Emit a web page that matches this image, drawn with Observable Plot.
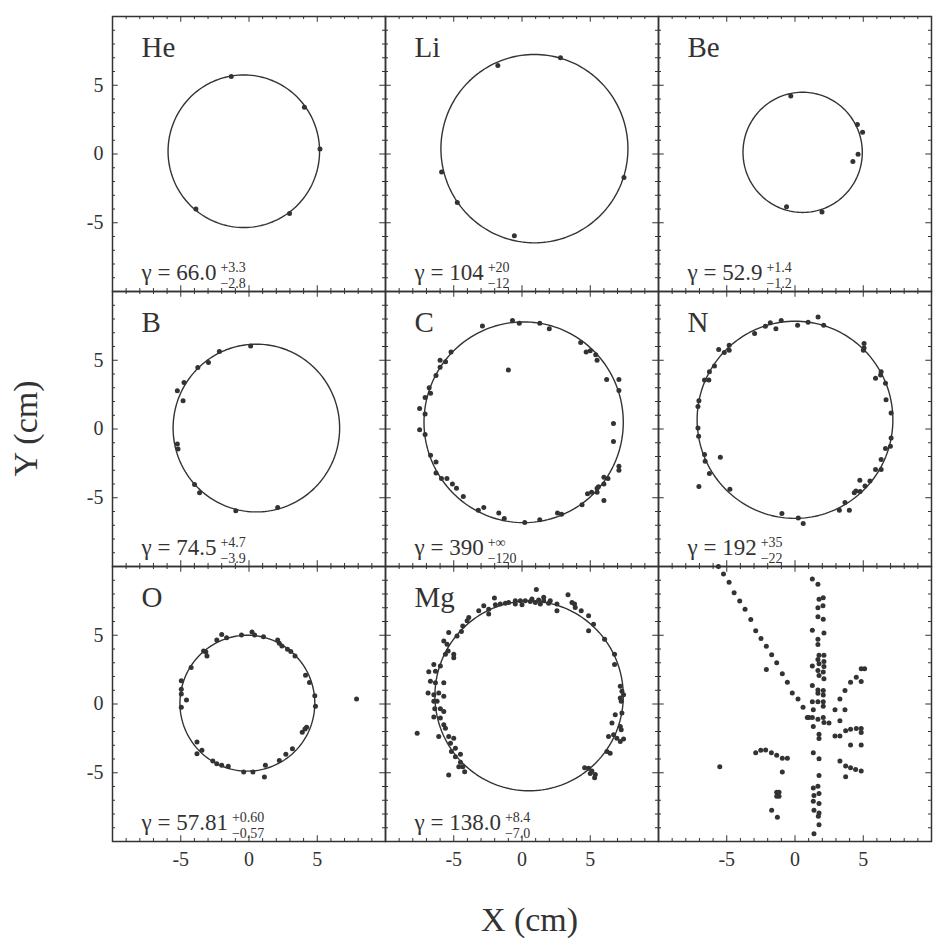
<!DOCTYPE html>
<html><head><meta charset="utf-8">
<script src="https://cdn.jsdelivr.net/npm/d3@7"></script>
<script src="https://cdn.jsdelivr.net/npm/@observablehq/plot@0.6"></script>
<style>body{margin:0;background:#fff;}</style>
</head><body><div id="chart"></div>
<script>
// ---- data ----
const panelNames = ["He", "Li", "Be", "B", "C", "N", "O", "Mg", ""];
const gammaValues = ["66.0", "104", "52.9", "74.5", "390", "192", "57.81", "138.0", null];
const gammaPlus = ["+3.3", "+20", "+1.4", "+4.7", "+∞", "+35", "+0.60", "+8.4", null];
const gammaMinus = ["−2.8", "−12", "−1.2", "−3.9", "−120", "−22", "−0.57", "−7.0", null];
// fitted circle: centre x, centre y, radius (cm)
const fitCx = [-0.38, 0.91, 0.56, 0.54, 0.12, 0.0, -0.12, 0.52, null];
const fitCy = [0.2, 0.39, 0.12, 0.07, 0.49, 0.67, 0.06, 0.59, null];
const fitR = [5.55, 6.85, 4.37, 6.1, 7.3, 7.17, 4.94, 6.9, null];

const hePoints = [[-1.3,5.64],[4.06,3.4],[5.2,0.36],[2.97,-4.33],[-3.89,-4.0]];
const liPoints = [[2.82,7.0],[-1.77,6.43],[-5.89,-1.31],[-4.74,-3.52],[-0.56,-5.95],[7.47,-1.71]];
const bePoints = [[-0.31,4.21],[4.57,2.14],[4.95,1.59],[4.62,-0.02],[4.24,-0.55],[-0.62,-3.84],[1.98,-4.21]];
const bPoints = [[0.12,6.04],[-2.17,5.63],[-2.97,4.83],[-3.75,4.47],[-4.76,3.38],[-5.25,2.78],[-4.83,2.06],
  [-5.25,-1.09],[-5.2,-1.45],[-3.99,-4.03],[-3.62,-4.64],[-0.97,-5.94],[2.1,-5.7]];
const cPoints = [[-2.9,7.5],[-0.7,7.9],[-0.2,7.7],[1.3,7.7],[2.0,7.3],[4.3,6.3],[4.7,5.6],[5.0,5.7],[5.4,5.4],
  [5.5,5.0],[6.2,3.6],[7.1,3.6],[7.1,2.8],[6.7,0.4],[6.7,-0.9],[7.1,-2.7],[7.1,-3.0],[6.0,-3.5],[6.3,-3.6],
  [6.0,-4.0],[5.6,-4.2],[5.5,-4.3],[5.5,-4.6],[5.1,-4.6],[4.8,-4.7],[6.0,-5.2],[4.4,-5.5],[2.9,-6.2],[2.6,-6.1],
  [1.3,-6.6],[0.2,-6.8],[-1.3,-6.5],[-1.7,-6.1],[-2.8,-5.7],[-3.2,-5.9],[-4.3,-4.9],[-4.8,-4.3],[-5.1,-4.0],
  [-5.5,-3.6],[-5.9,-3.6],[-6.3,-3.2],[-6.3,-2.4],[-6.7,-1.9],[-7.1,-0.4],[-7.5,-0.05],[-7.5,1.5],[-7.1,1.1],
  [-7.1,2.3],[-6.7,2.6],[-6.8,3.0],[-6.3,3.9],[-6.0,4.5],[-6.0,5.0],[-5.6,4.9],[-5.2,5.6],[-1.0,4.3]];
const nPoints = [[-2.96,6.94],[-2.17,7.47],[-1.81,7.73],[-1.4,7.3],[-1.01,7.9],[0.19,7.54],[0.96,7.76],[1.69,8.14],
  [2.1,7.54],[-5.59,5.78],[-5.18,5.57],[-4.82,5.73],[-4.82,6.1],[-5.9,4.58],[-6.27,4.17],[-6.63,3.57],[-6.31,3.57],
  [-7.04,2.05],[-7.11,1.64],[-7.11,0.07],[-7.06,-0.53],[-6.63,-1.86],[-6.58,-2.34],[-6.27,-3.23],[-7.04,-4.19],
  [-5.47,-2.05],[-4.77,-4.39],[-0.96,-6.14],[0.24,-6.48],[0.6,-6.87],[3.25,-5.9],[3.98,-5.9],[3.66,-5.35],
  [4.34,-4.63],[4.46,-4.51],[4.77,-4.55],[4.75,-3.73],[5.13,-4.14],[5.49,-3.78],[5.9,-2.94],[6.31,-2.94],
  [6.31,-2.22],[6.63,-1.42],[6.99,-1.25],[7.04,-0.65],[7.04,1.16],[6.67,2.12],[6.63,3.33],[6.27,3.93],
  [6.31,4.17],[5.9,3.69],[5.06,6.22],[5.06,5.9],[5.01,5.73]];
const oPoints = [[-2.0,5.06],[-1.64,4.82],[-2.36,4.65],[-0.55,5.01],[0.22,5.23],[0.41,5.01],[1.06,4.89],[2.1,4.65],
  [2.22,4.41],[2.41,4.22],[2.82,3.98],[3.06,3.81],[3.37,3.49],[-3.33,3.86],[-3.08,3.49],[-3.16,3.78],[-4.24,2.65],
  [-4.96,1.69],[-4.96,1.08],[-4.96,0.72],[-4.58,0.29],[-4.96,-0.24],[-3.81,-2.77],[-3.45,-3.37],[-3.81,-3.61],
  [-2.65,-4.14],[-2.36,-4.34],[-2.0,-4.46],[-1.52,-4.53],[-0.39,-4.94],[0.29,-4.94],[1.13,-5.3],[1.2,-4.46],
  [2.22,-4.1],[2.7,-3.66],[3.18,-3.25],[4.1,-1.81],[4.22,-1.69],[3.9,-2.05],[4.82,0.6],[4.87,-0.17],[4.43,1.57],
  [4.14,2.1],[7.88,0.36]];
const mgPoints = [[1.05,8.32],[3.37,7.95],[-2.02,7.71],[-2.8,7.15],[-2.44,6.9],[-3.17,6.78],[-2.44,6.54],[-1.95,7.22],
  [-1.59,7.27],[-1.22,7.32],[-0.98,7.39],[-0.49,7.51],[-0.49,7.27],[-0.12,7.51],[0.0,7.22],[0.24,7.51],[0.61,7.46],
  [0.73,7.63],[0.98,7.39],[1.22,7.56],[1.34,7.27],[1.59,7.76],[1.59,7.51],[1.95,7.32],[2.07,7.51],[2.56,7.27],
  [2.56,6.78],[3.66,7.39],[3.9,7.02],[3.85,7.27],[4.34,6.78],[4.88,6.41],[4.88,5.32],[5.24,5.8],[6.05,4.71],
  [-3.9,6.29],[-4.02,6.05],[-4.34,5.68],[-4.44,5.27],[-4.76,4.95],[-5.37,5.2],[-5.73,4.59],[-5.49,4.34],
  [-5.41,3.85],[-5.0,3.61],[-5.0,3.37],[-5.61,3.61],[-5.98,2.76],[-6.34,2.39],[-6.83,2.34],[-6.46,2.88],
  [-6.71,1.66],[-6.34,1.54],[-5.73,1.54],[-6.88,0.8],[-6.46,0.68],[-6.1,0.8],[-5.73,0.56],[-6.46,0.2],[-6.22,0.2],
  [-6.39,-0.34],[-5.98,-0.34],[-6.46,-0.95],[-5.98,-1.02],[-5.73,-0.54],[-5.73,-1.51],[-5.61,-1.76],[-6.1,-2.37],
  [-5.37,-2.37],[-5.0,-2.49],[-5.24,-2.85],[-4.88,-3.22],[-5.17,-3.46],[-4.88,-3.83],[-4.51,-3.66],[-4.51,-4.24],
  [-4.34,-4.56],[-4.2,-4.93],[-4.63,-4.56],[-7.68,-2.12],[-5.37,-5.17],[6.78,3.61],[6.78,2.88],[7.2,1.29],
  [7.32,0.93],[7.44,0.68],[7.2,0.44],[7.27,0.2],[7.32,-0.66],[6.83,-0.78],[6.59,-1.39],[7.2,-1.63],[7.27,-1.88],
  [6.34,-2.37],[6.71,-2.24],[6.95,-2.49],[7.44,-2.54],[7.2,-2.73],[6.22,-3.46],[6.46,-3.59],[4.59,-4.63],
  [4.88,-4.68],[5.12,-4.88],[5.37,-5.12],[5.32,-5.37],[5.0,-5.05]];
const lastPoints = [[-5.61,10.0],[-5.24,9.46],[-4.83,8.85],[-4.46,8.1],[-4.05,7.49],[-3.66,6.9],[-3.24,6.15],
  [-2.88,5.32],[-2.49,4.76],[-2.1,4.2],[-1.71,3.59],[-1.34,3.0],[-0.93,2.2],[-0.56,1.59],[-0.2,0.8],[0.22,0.37],
  [0.59,-0.24],[1.02,-0.98],[-2.1,2.51],
  [1.27,9.1],[1.68,8.71],[2.07,7.73],[1.76,7.61],[2.05,7.15],[1.68,7.0],[1.68,6.34],[2.07,6.17],[1.27,5.37],
  [2.12,5.17],[1.68,4.71],[1.68,4.32],[1.76,3.54],[2.12,3.54],[1.68,3.24],[2.12,3.1],[1.76,2.93],[1.27,2.76],
  [2.12,2.73],[1.68,2.44],[2.07,2.32],[1.76,2.07],[2.12,1.83],[1.27,1.34],[1.68,1.02],[2.07,0.98],[1.68,0.78],
  [2.07,0.66],[1.27,0.17],[1.68,0.17],[2.07,0.17],[2.07,-0.17],[1.34,-0.41],[0.9,-0.98],[1.27,-0.98],[1.68,-1.1],
  [1.34,-1.63],[2.07,-0.98],[2.12,-1.34],[2.49,-1.39],[1.76,-2.2],[1.76,-2.51],[1.34,-3.54],[1.76,-3.98],
  [1.76,-5.2],[1.68,-5.98],[1.34,-6.1],[1.76,-6.51],[1.39,-6.66],[1.34,-7.07],[1.76,-7.24],[1.39,-7.73],
  [1.76,-7.93],[1.71,-8.17],[1.76,-8.78],[1.39,-9.44],
  [2.93,-0.41],[3.66,-0.41],[3.29,0.37],[3.66,0.98],[4.07,1.59],[4.49,1.95],[4.85,1.63],[4.85,2.56],[5.1,2.56],
  [3.29,-1.22],[2.93,-2.32],[3.29,-2.32],[3.71,-1.95],[4.07,-1.83],[4.49,-1.78],[4.85,-1.78],[4.85,-2.07],
  [4.07,-2.98],[4.85,-2.98],[3.29,-4.15],[3.71,-4.51],[4.07,-4.63],[4.44,-4.76],[4.85,-4.88],[3.71,-5.29],
  [-2.88,-3.54],[-2.51,-3.37],[-2.15,-3.34],[-1.73,-3.54],[-1.34,-3.73],[-0.93,-3.95],[-0.56,-3.95],[-0.93,-4.95],
  [-1.34,-6.41],[-1.17,-6.41],[-1.34,-6.71],[-1.17,-6.71],[-1.71,-7.73],[-1.29,-8.24],[-5.51,-4.56]];

const axisTicks = [-5, 0, 5];
const minorTicks = [-9,-8,-7,-6,-4,-3,-2,-1,1,2,3,4,6,7,8,9];
const xLabel = "X (cm)";
const yLabel = "Y (cm)";

// ---- layout ----
const W = 933, H = 938, ML = 112, MR = 2, MT = 15, MB = 96;
const panelW = (W - ML - MR) / 3;
const pxPerUnit = panelW / 20;
const ink = "#333";
const serif = "'Liberation Serif', 'Times New Roman', serif";
const mainSize = 23, scriptSize = 14;

const allPoints = [hePoints, liPoints, bePoints, bPoints, cPoints, nPoints, oPoints, mgPoints, lastPoints];
const points = allPoints.flatMap((pts, i) => pts.map(([x, y]) => ({x, y, col: i % 3, row: Math.floor(i / 3)})));
const circles = fitR.flatMap((r, i) => r == null ? [] :
  d3.range(0, 361, 2).map(a => ({
    x: fitCx[i] + r * Math.cos(a * Math.PI / 180),
    y: fitCy[i] + r * Math.sin(a * Math.PI / 180),
    col: i % 3, row: Math.floor(i / 3), k: i
  })));

const ctx = document.createElement("canvas").getContext("2d");
ctx.font = `${mainSize}px ${serif}`;
const labels = panelNames.map((name, i) => ({
  name, col: i % 3, row: Math.floor(i / 3),
  main: gammaValues[i] == null ? null : "γ = " + gammaValues[i],
  plus: gammaPlus[i], minus: gammaMinus[i]
})).filter(d => d.main);
labels.forEach(d => { d.w = ctx.measureText(d.main).width; });

const major = 0.42, minor = 0.22;
const tickMarks = (ticks, len) => [
  Plot.ruleX(ticks, {x: d => d, y1: -10, y2: -10 + len, stroke: ink, strokeWidth: 1}),
  Plot.ruleX(ticks, {x: d => d, y1: 10, y2: 10 - len, stroke: ink, strokeWidth: 1}),
  Plot.ruleY(ticks, {y: d => d, x1: -10, x2: -10 + len, stroke: ink, strokeWidth: 1}),
  Plot.ruleY(ticks, {y: d => d, x1: 10, x2: 10 - len, stroke: ink, strokeWidth: 1})
];

const chart = Plot.plot({
  width: W, height: H,
  marginLeft: ML, marginRight: MR, marginTop: MT, marginBottom: MB,
  style: {fontFamily: serif, background: "#fff", color: ink},
  x: {domain: [-10, 10]},
  y: {domain: [-10, 10]},
  fx: {domain: [0, 1, 2], axis: null, padding: 0},
  fy: {domain: [0, 1, 2], axis: null, padding: 0},
  marks: [
    ...tickMarks(minorTicks, minor),
    ...tickMarks(axisTicks, major),
    Plot.frame({stroke: ink, strokeWidth: 1.5}),
    Plot.axisX({ticks: axisTicks, tickSize: 0, tickPadding: 10, tickFormat: d => String(d), fontSize: 20, label: null}),
    Plot.axisY({ticks: axisTicks, tickSize: 0, tickPadding: 9, tickFormat: d => String(d), fontSize: 20, label: null}),
    Plot.line(circles, {x: "x", y: "y", z: "k", fx: "col", fy: "row", stroke: ink, strokeWidth: 1.4}),
    Plot.dot(points, {x: "x", y: "y", fx: "col", fy: "row", r: 2.5, fill: ink, stroke: "none"}),
    Plot.text(labels, {fx: "col", fy: "row", text: "name", frameAnchor: "top-left", dx: 29, dy: 40,
      lineAnchor: "bottom", textAnchor: "start", fontSize: 29, fill: ink}),
    Plot.text(labels, {fx: "col", fy: "row", text: "main", frameAnchor: "bottom-left", dx: 29, dy: -12,
      lineAnchor: "bottom", textAnchor: "start", fontSize: mainSize, fill: ink}),
    Plot.text(labels, {fx: "col", fy: "row", text: "plus", x: d => -10 + (29 + d.w + 4) / pxPerUnit,
      frameAnchor: "bottom", dy: -20, lineAnchor: "bottom", textAnchor: "start", fontSize: scriptSize, fill: ink}),
    Plot.text(labels, {fx: "col", fy: "row", text: "minus", x: d => -10 + (29 + d.w + 4) / pxPerUnit,
      frameAnchor: "bottom", dy: -4, lineAnchor: "bottom", textAnchor: "start", fontSize: scriptSize, fill: ink})
  ]
});

const svg = d3.select(chart);
svg.append("text").attr("x", (ML + W - MR) / 2 + 8).attr("y", 931)
  .attr("text-anchor", "middle").attr("font-size", 34).attr("font-family", serif).attr("fill", ink).text(xLabel);
svg.append("text").attr("transform", `translate(37,${MT + (H - MT - MB) / 2}) rotate(-90)`)
  .attr("text-anchor", "middle").attr("font-size", 34).attr("font-family", serif).attr("fill", ink).text(yLabel);

document.getElementById("chart").appendChild(chart);
</script>
</body></html>
